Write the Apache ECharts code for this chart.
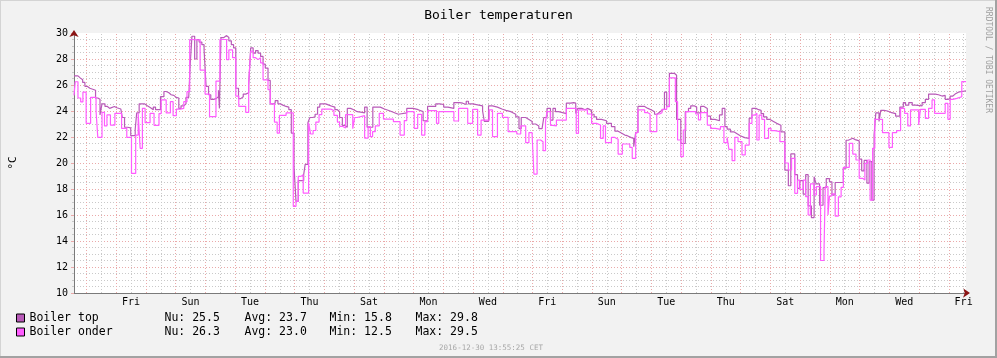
<!DOCTYPE html>
<html><head><meta charset="utf-8">
<script src="https://cdn.jsdelivr.net/npm/echarts@6/dist/echarts.min.js"></script>
<style>html,body{margin:0;padding:0;background:#f2f2f2}#c{width:997px;height:358px}</style>
</head><body><div id="c"></div>
<script>
const chartTitle = 'Boiler temperaturen';
const yUnit = '°C';
const startHourOfDay = 13 + 55 / 60; // Wed 2016-11-30 13:55 CET (x = hours since Nov 30 00:00)
const spanHours = 720;
const firstLabelHour = 60;            // Fri Dec 2, 12:00
const labelStepHours = 48;
const dayLabels = ['Fri','Sun','Tue','Thu','Sat','Mon','Wed','Fri','Sun','Tue','Thu','Sat','Mon','Wed','Fri'];
const seriesNames = ['Boiler top', 'Boiler onder'];
const statNames = ['Nu', 'Avg', 'Min', 'Max'];
const boilerTopStats = [25.5, 23.7, 15.8, 29.8];
const boilerOnderStats = [26.3, 23.0, 12.5, 29.5];
const stampText = '2016-12-30 13:55:25 CET';
const creditText = 'RRDTOOL / TOBI OETIKER';
const yMin = 10, yMax = 30, yStep = 2;

// [hours since start, temperature]
const boilerTop = [[0,26.7],[3.2,26.55],[5.0,26.4],[7.0,26.2],[8.8,25.9],[10.6,25.75],[12.8,25.6],[17.4,25.0],[19.2,24.9],[21.0,23.7],[22.6,24.55],[25.0,24.35],[27.0,24.2],[28.8,24.35],[32.6,24.25],[34.6,24.15],[37.8,24.1],[39.0,23.5],[40.8,22.75],[43.2,22.7],[45.8,22.1],[49.4,22.6],[50.6,23.85],[52.6,24.55],[56.8,24.4],[59.2,24.25],[61.8,24.1],[64.0,24.3],[65.8,24.1],[69.8,25.1],[72.6,25.5],[74.4,25.4],[76.6,25.25],[78.4,25.2],[80.6,25.05],[82.4,25.0],[84.6,24.2],[86.4,24.4],[88.6,24.55],[90.4,25.05],[92.6,25.1],[93.8,27.6],[95.2,29.75],[97.4,28.0],[99.2,29.5],[101.0,29.3],[103.2,29.1],[105.0,28.7],[106.6,25.9],[108.6,25.25],[110.4,24.9],[112.6,24.95],[114.6,25.1],[116.6,25.6],[117.4,24.2],[118.6,29.65],[121.0,29.8],[123.2,29.65],[125.0,29.4],[127.0,29.1],[128.8,28.85],[130.6,25.75],[132.8,24.95],[134.6,25.1],[136.6,25.3],[138.6,25.4],[141.0,25.95],[142.6,28.85],[144.6,28.45],[146.6,28.65],[148.6,28.45],[150.6,28.2],[152.6,27.6],[154.4,27.3],[156.6,26.35],[158.4,24.55],[160.6,24.6],[162.4,24.8],[164.6,24.55],[166.6,24.45],[168.6,24.35],[171.2,24.3],[173.4,24.1],[175.4,22.3],[177.6,19.7],[179.2,17.05],[181.0,18.65],[185.4,19.1],[186.6,19.9],[188.8,23.1],[190.4,23.5],[192.6,23.55],[194.6,23.75],[196.6,24.3],[198.4,24.55],[203.2,24.45],[205.8,24.35],[208.6,24.3],[210.6,24.1],[212.6,23.95],[214.4,23.5],[216.6,22.9],[218.4,22.75],[220.6,24.2],[223.2,24.1],[225.8,23.95],[228.6,23.9],[232.6,23.85],[234.6,24.3],[236.6,22.75],[241.2,24.3],[247.2,24.15],[250.6,24.0],[255.2,23.85],[259.2,23.75],[261.8,23.85],[268.6,24.2],[273.8,24.1],[277.8,23.95],[281.8,23.25],[285.4,24.35],[292.0,24.55],[295.2,24.5],[298.4,24.3],[301.8,24.2],[306.6,24.65],[311.2,24.6],[313.8,24.5],[316.6,24.75],[318.4,24.55],[321.8,24.4],[329.8,24.0],[331.2,23.2],[334.6,24.4],[337.8,24.3],[341.8,24.15],[345.4,24.05],[348.6,23.95],[352.6,23.85],[354.6,23.75],[356.6,23.55],[359.2,22.65],[361.0,23.5],[364.6,23.35],[367.2,23.2],[369.8,23.0],[372.6,22.85],[375.2,22.65],[377.8,22.6],[379.2,23.5],[381.8,24.2],[384.6,23.3],[386.6,24.2],[388.6,23.95],[391.2,23.8],[397.4,24.6],[401.0,24.65],[403.2,24.6],[405.0,23.8],[406.6,24.2],[409.8,24.1],[412.6,24.2],[414.4,24.05],[417.8,23.75],[419.8,23.55],[421.8,23.35],[425.8,23.25],[429.8,23.05],[433.8,22.8],[436.6,22.45],[439.2,22.3],[441.8,22.15],[444.6,22.1],[446.6,21.95],[449.8,21.9],[451.8,21.25],[453.4,22.35],[455.2,24.35],[460.6,24.2],[463.2,24.1],[465.8,23.95],[468.6,23.75],[470.6,23.9],[472.6,24.05],[474.4,24.15],[476.6,25.45],[478.4,24.35],[480.6,26.9],[484.6,26.75],[486.4,23.35],[489.8,21.5],[493.4,23.95],[496.0,24.2],[497.8,24.4],[500.6,24.3],[502.6,23.85],[505.8,24.35],[508.6,24.2],[511.2,23.6],[513.8,23.35],[517.4,23.25],[521.0,23.7],[523.2,24.2],[525.4,22.8],[527.2,22.6],[529.8,22.4],[532.6,22.25],[535.2,22.1],[537.8,21.95],[541.4,21.9],[545.0,23.45],[547.2,24.2],[550.4,24.1],[552.6,24.05],[554.6,23.8],[556.6,23.55],[559.2,23.35],[561.8,23.2],[564.6,23.05],[567.2,22.9],[570.6,22.4],[573.8,19.45],[576.6,18.25],[578.6,20.7],[581.8,19.1],[584.0,18.05],[585.8,18.65],[588.6,17.6],[590.6,19.1],[592.6,16.7],[595.2,15.8],[597.4,18.95],[599.0,18.4],[601.8,16.75],[604.6,18.1],[607.2,18.8],[609.8,18.55],[611.8,17.55],[614.4,18.5],[621.0,19.6],[623.2,21.75],[625.0,21.9],[628.6,21.8],[630.6,21.7],[633.8,20.3],[635.8,19.4],[637.8,20.2],[640.0,18.45],[641.8,20.1],[644.0,17.15],[645.8,22.15],[647.2,23.85],[649.8,23.2],[651.2,24.05],[653.8,24.0],[656.6,23.9],[659.2,23.8],[663.2,23.6],[666.6,24.3],[669.4,24.65],[671.2,24.45],[673.8,24.65],[676.6,24.45],[679.2,24.4],[684.6,24.65],[687.2,24.9],[689.8,25.3],[695.2,25.25],[697.8,25.15],[700.6,25.2],[703.2,24.9],[705.4,24.95],[707.2,25.15],[709.4,25.3],[711.2,25.45],[713.8,25.5],[716.6,25.55],[720,25.5]];

const boilerOnder = [[0,25.2],[1.0,26.25],[3.2,25.0],[5.4,24.7],[7.2,25.45],[9.8,23.05],[13.4,25.05],[17.8,24.0],[19.2,21.97],[22.6,23.9],[24.6,22.85],[26.6,23.7],[29.4,22.92],[33.0,23.82],[38.4,22.67],[42.6,21.97],[46.4,19.2],[49.8,22.15],[51.8,23.82],[53.4,21.13],[55.2,24.2],[57.4,23.1],[61.4,23.82],[64.6,22.9],[68.6,23.8],[70.4,24.85],[74.4,23.85],[77.8,24.72],[80.0,23.64],[82.6,24.15],[85.8,24.2],[88.6,24.72],[91.2,25.49],[93.4,29.5],[95.2,29.45],[101.8,27.15],[105.8,25.3],[109.4,23.56],[114.6,26.3],[117.8,29.5],[123.2,27.95],[125.0,28.7],[128.0,28.1],[130.6,25.15],[133.0,24.36],[138.6,23.9],[141.0,26.2],[142.6,28.6],[144.6,28.1],[146.6,27.95],[148.6,28.1],[150.6,27.7],[152.6,26.4],[156.6,25.65],[158.4,24.55],[161.8,23.15],[164.0,22.3],[165.8,23.67],[171.2,23.85],[177.0,16.67],[179.2,17.05],[181.0,18.97],[183.2,19.1],[185.0,17.69],[189.4,23.08],[191.0,22.23],[193.0,22.5],[195.2,23.15],[197.8,23.72],[200.0,24.15],[207.2,24.03],[209.8,23.67],[212.6,23.15],[214.4,22.82],[216.6,22.69],[219.2,23.72],[225.0,22.64],[226.6,23.5],[228.6,23.64],[234.6,21.92],[237.4,22.8],[239.2,22.03],[241.0,22.41],[243.2,22.85],[246.4,23.82],[249.8,23.38],[257.8,23.18],[263.2,22.15],[266.6,23.26],[268.6,23.95],[274.6,22.67],[277.4,23.74],[280.6,22.15],[283.2,23.18],[285.4,24.03],[292.6,23.05],[294.4,23.95],[306.6,23.23],[310.4,24.2],[317.8,23.05],[321.8,24.13],[325.8,22.15],[328.6,23.3],[335.2,24.08],[337.8,22.03],[341.8,23.82],[345.8,23.51],[350.4,22.41],[357.4,22.23],[360.6,22.85],[364.6,21.56],[367.2,22.33],[369.8,22.15],[371.2,19.15],[373.8,21.77],[376.6,21.64],[378.6,20.95],[380.6,23.18],[381.8,23.95],[384.6,22.9],[386.6,22.85],[389.4,23.3],[397.4,24.2],[405.4,22.28],[407.2,24.08],[414.4,23.77],[417.8,23.05],[421.8,22.92],[425.0,21.9],[427.2,22.85],[429.0,21.56],[433.8,21.97],[436.6,21.82],[439.2,20.69],[442.6,21.46],[448.6,21.2],[450.6,20.36],[453.4,22.33],[455.2,24.08],[460.6,23.87],[463.2,23.77],[465.0,22.41],[470.4,23.77],[472.6,23.87],[474.6,24.13],[478.4,24.33],[480.6,26.55],[485.4,24.72],[487.2,21.77],[489.8,20.49],[491.8,22.54],[493.8,23.95],[501.8,23.77],[504.0,23.31],[505.8,23.87],[511.2,22.92],[513.8,22.67],[517.8,22.59],[521.8,22.8],[524.6,21.56],[527.2,21.97],[528.6,21.05],[531.2,20.18],[533.4,21.97],[536.0,21.64],[539.2,20.62],[541.8,21.38],[545.0,23.05],[547.2,23.69],[549.4,23.82],[551.2,21.77],[553.0,23.69],[555.2,23.36],[557.4,21.9],[560.6,22.67],[562.6,22.49],[565.8,22.41],[569.8,21.64],[573.8,20.0],[576.6,19.46],[579.2,20.36],[581.8,17.67],[584.0,18.69],[585.8,17.97],[588.6,18.69],[590.6,17.41],[592.6,16.0],[594.4,18.4],[597.4,17.54],[599.2,18.18],[602.6,12.5],[605.4,13.26],[606.4,18.18],[608.6,16.0],[609.8,17.46],[611.8,17.62],[614.4,15.92],[617.0,17.4],[619.2,18.13],[621.0,19.67],[625.8,21.51],[628.6,20.69],[631.2,20.23],[633.8,18.82],[636.6,18.69],[638.4,19.97],[640.6,20.23],[642.6,17.15],[644.6,21.13],[646.4,23.36],[652.6,22.33],[657.8,21.2],[660.6,22.33],[664.0,22.49],[667.2,24.2],[670.4,23.82],[673.0,22.85],[675.2,24.08],[681.8,22.92],[683.2,24.13],[687.2,23.44],[689.8,24.2],[692.6,24.85],[694.6,23.82],[703.2,24.59],[705.4,23.36],[707.2,24.9],[709.4,24.97],[712.6,25.1],[716.6,26.26],[720,26.3]];

const FONT = '"DejaVu Sans Mono", monospace';
const colTop = '#B85AB8';
const colOnder = '#FF5CFF';
const majorColor = '#eaa9a9';
const minorColor = '#c9c9c9';
const dotted = [1, 2];

const toXY = arr => arr.map(p => [startHourOfDay + p[0], p[1]]);
const statsFor = { 'Boiler top': boilerTopStats, 'Boiler onder': boilerOnderStats };
const richKeys = ['a', 'b', 'c', 'd'];

const xMin = startHourOfDay, xMax = startHourOfDay + spanHours;

// vertical grid lines: midnights (major) and noons (minor), plus day labels at noon
const gridMarks = [];
for (let h = 12; h < xMax; h += 12) {
  if (h <= xMin) continue;
  const isMidnight = h % 24 === 0;
  gridMarks.push({
    xAxis: h,
    lineStyle: { color: isMidnight ? majorColor : minorColor, width: 1, type: dotted, opacity: 1 }
  });
}
dayLabels.forEach((name, i) => {
  gridMarks.push({
    xAxis: firstLabelHour + i * labelStepHours,
    lineStyle: { color: 'rgba(0,0,0,0)', width: 1, opacity: 1 },
    label: {
      show: true, position: 'start', distance: 4, formatter: name,
      fontFamily: FONT, fontSize: 10, color: '#000', opacity: 1
    }
  });
});

const chart = echarts.init(document.getElementById('c'), null, { renderer: 'canvas' });

chart.setOption({
  animation: false,
  backgroundColor: '#f2f2f2',
  title: {
    text: chartTitle, left: 'center', top: 4,
    textStyle: { fontFamily: FONT, fontSize: 13, fontWeight: 'normal', color: '#000' }
  },
  grid: { left: 66, top: 33, width: 900, height: 260, show: true, backgroundColor: '#ffffff', borderWidth: 0 },
  xAxis: [
    {
      type: 'value', position: 'bottom', min: xMin, max: xMax,
      axisLine: { show: true, onZero: false, lineStyle: { color: '#7a7a7a', width: 1 } },
      axisTick: { show: false }, axisLabel: { show: false }, splitLine: { show: false }
    },
    {
      type: 'value', position: 'bottom', min: xMin, max: xMax,
      axisLine: { show: true, onZero: false, symbol: ['none', 'arrow'], symbolSize: [7, 7], symbolOffset: [0, 4],
                  lineStyle: { color: '#8b1414', width: 0 } },
      axisTick: { show: false }, axisLabel: { show: false }, splitLine: { show: false }
    }
  ],
  yAxis: [
    {
      type: 'value', position: 'left', min: yMin, max: yMax, interval: yStep,
      name: yUnit, nameLocation: 'middle', nameGap: 55, nameRotate: 90,
      nameTextStyle: { fontFamily: FONT, fontSize: 11, color: '#000' },
      axisLine: { show: true, lineStyle: { color: '#7a7a7a', width: 1 } },
      axisTick: { show: true, length: 3, lineStyle: { color: majorColor } },
      minorTick: { show: true, splitNumber: 4, length: 2, lineStyle: { color: minorColor } },
      axisLabel: { margin: 6, fontFamily: FONT, fontSize: 10, color: '#000' },
      splitLine: { show: true, showMinLine: false, showMaxLine: false, lineStyle: { color: majorColor, width: 1, type: dotted } },
      minorSplitLine: { show: true, lineStyle: { color: minorColor, width: 1, type: dotted } }
    },
    {
      type: 'value', position: 'left', min: yMin, max: yMax, interval: yStep,
      axisLine: { show: true, symbol: ['none', 'arrow'], symbolSize: [7, 7], symbolOffset: [0, 3],
                  lineStyle: { color: '#8b1414', width: 0 } },
      axisTick: { show: false }, axisLabel: { show: false }, splitLine: { show: false }
    }
  ],
  legend: {
    orient: 'vertical', left: 11, top: 306, padding: 5,
    itemWidth: 8, itemHeight: 8, itemGap: 0, icon: 'rect', selectedMode: false,
    itemStyle: { borderColor: '#000', borderWidth: 1 },
    data: seriesNames,
    textStyle: {
      fontFamily: FONT, fontSize: 11.5, color: '#000', lineHeight: 14,
      rich: {
        n: { width: 135, fontFamily: FONT, fontSize: 11.5, lineHeight: 14 },
        a: { width: 80, fontFamily: FONT, fontSize: 11.5, lineHeight: 14 },
        b: { width: 85, fontFamily: FONT, fontSize: 11.5, lineHeight: 14 },
        c: { width: 86, fontFamily: FONT, fontSize: 11.5, lineHeight: 14 },
        d: { width: 80, fontFamily: FONT, fontSize: 11.5, lineHeight: 14 }
      }
    },
    formatter: name => {
      const s = statsFor[name];
      return '{n|' + name + '}' + statNames.map((st, i) => '{' + richKeys[i] + '|' + st + ': ' + s[i].toFixed(1) + '}').join('');
    }
  },
  series: [
    {
      name: 'grid', type: 'line', data: [[xMin, yMin], [xMax, yMin]], xAxisIndex: 0, yAxisIndex: 0,
      z: 1, silent: true, showSymbol: false, symbol: 'none', clip: false,
      lineStyle: { opacity: 0, width: 0 }, tooltip: { show: false },
      markLine: {
        silent: true, animation: false, symbol: ['none', 'none'], precision: 4, z: 1,
        label: { show: false },
        data: gridMarks
      }
    },
    {
      name: seriesNames[0], type: 'line', step: 'end', data: toXY(boilerTop),
      xAxisIndex: 0, yAxisIndex: 0, showSymbol: false, symbol: 'none',
      color: colTop, lineStyle: { color: colTop, width: 1.2 }, z: 3
    },
    {
      name: seriesNames[1], type: 'line', step: 'end', data: toXY(boilerOnder),
      xAxisIndex: 0, yAxisIndex: 0, showSymbol: false, symbol: 'none',
      color: colOnder, lineStyle: { color: colOnder, width: 1.2 }, z: 4
    }
  ],
  graphic: [
    { type: 'rect', shape: { x: 0, y: 0, width: 997, height: 1 }, style: { fill: '#d4d4d4' }, silent: true },
    { type: 'rect', shape: { x: 0, y: 0, width: 1, height: 358 }, style: { fill: '#d4d4d4' }, silent: true },
    { type: 'rect', shape: { x: 0, y: 356, width: 997, height: 2 }, style: { fill: '#a2a2a2' }, silent: true },
    { type: 'rect', shape: { x: 995, y: 0, width: 2, height: 358 }, style: { fill: '#a2a2a2' }, silent: true },
    { type: 'text', x: 988, y: 60, rotation: -Math.PI / 2, silent: true,
      style: { text: creditText, fill: '#a0a0a0', font: '8px ' + FONT, align: 'center', verticalAlign: 'middle' } },
    { type: 'text', x: 491, y: 348, silent: true,
      style: { text: stampText, fill: '#a8a8a8', font: '7.5px ' + FONT, align: 'center', verticalAlign: 'middle' } }
  ]
});
</script>
</body></html>
